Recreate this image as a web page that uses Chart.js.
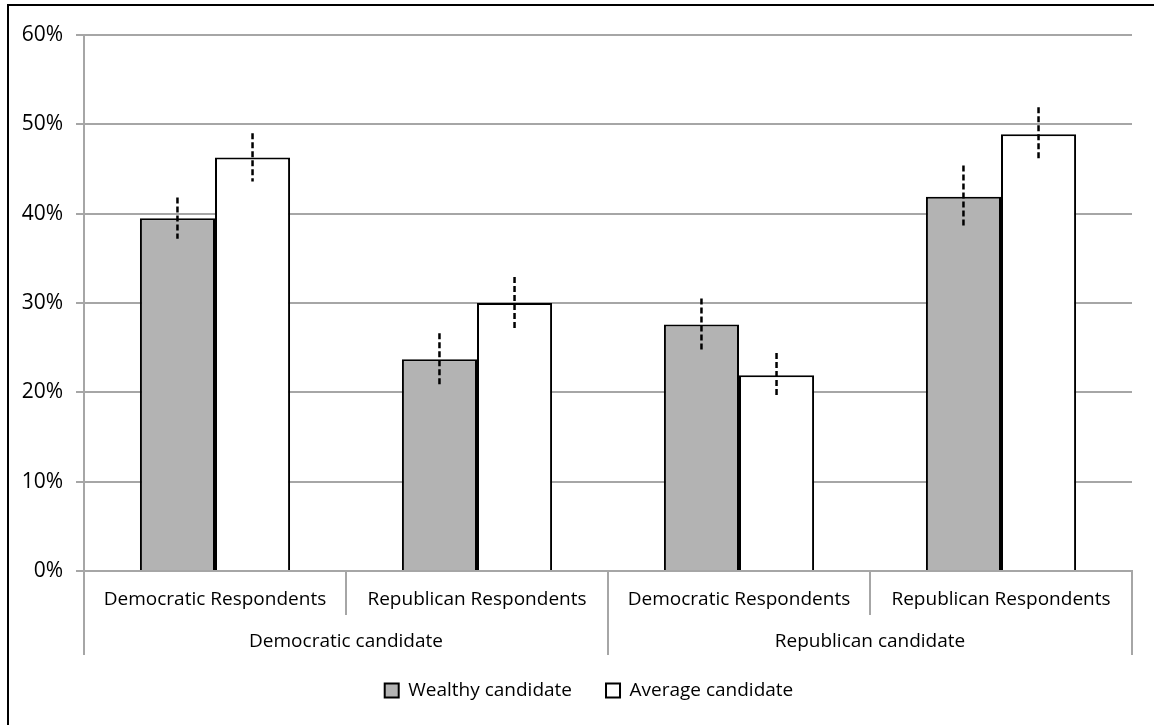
<!DOCTYPE html>
<html>
<head>
<meta charset="utf-8">
<script src="https://cdn.jsdelivr.net/npm/chart.js@4.4.0/dist/chart.umd.min.js"></script>
<style>
  html, body { margin: 0; padding: 0; background: #fff; overflow: hidden; }
  #wrap { width: 1154px; height: 725px; position: relative; }
</style>
</head>
<body>
<div id="wrap"><canvas id="chartCanvas"></canvas></div>
<script>
// Chart data
var respondentLabels = ['Democratic Respondents', 'Republican Respondents', 'Democratic Respondents', 'Republican Respondents'];
var candidateGroups = ['Democratic candidate', 'Republican candidate'];
var seriesNames = ['Wealthy candidate', 'Average candidate'];
var wealthyValues = [39.5, 23.7, 27.6, 41.9];
var wealthyErrors = [2.3, 2.9, 2.9, 3.5];
var averageValues = [46.3, 30.0, 21.9, 48.9];
var averageErrors = [2.7, 2.9, 2.5, 3.0];
var yTicks = [0, 10, 20, 30, 40, 50, 60];

var errorLists = [wealthyErrors, averageErrors];
var gridGray = '#a6a6a6';
var labelFont = { family: '"Open Sans", sans-serif', size: 19 };
var yFont = { family: '"Open Sans", sans-serif', size: 21 };

// Draws the outer frame (cropped at the right and bottom)
var framePlugin = {
  id: 'frame',
  beforeDraw: function(chart) {
    var ctx = chart.ctx;
    ctx.save();
    ctx.strokeStyle = '#000';
    ctx.lineWidth = 2;
    ctx.beginPath();
    ctx.moveTo(8, chart.height);
    ctx.lineTo(8, 5);
    ctx.lineTo(chart.width, 5);
    ctx.stroke();
    ctx.restore();
  }
};

// Legend in the original sits a bit right of the canvas centre, and a bit higher
var legendShift = {
  id: 'legendShift',
  afterLayout: function(chart) {
    var lg = chart.legend;
    lg.left += 23;
    lg.right += 23;
    lg.top -= 8;
    lg.bottom -= 8;
  }
};

// Draws dashed error bars on top of the bars
var errorBarPlugin = {
  id: 'errorBars',
  afterDatasetsDraw: function(chart) {
    var ctx = chart.ctx;
    var yScale = chart.scales.y;
    ctx.save();
    ctx.strokeStyle = '#000';
    ctx.lineWidth = 2.5;
    ctx.setLineDash([6, 3]);
    chart.data.datasets.forEach(function(ds, i) {
      var meta = chart.getDatasetMeta(i);
      meta.data.forEach(function(bar, j) {
        var v = ds.data[j];
        var e = errorLists[i][j];
        ctx.beginPath();
        ctx.moveTo(bar.x, yScale.getPixelForValue(v + e));
        ctx.lineTo(bar.x, yScale.getPixelForValue(v - e));
        ctx.stroke();
      });
    });
    ctx.restore();
  }
};

var chart = new Chart(document.getElementById('chartCanvas'), {
  type: 'bar',
  data: {
    labels: respondentLabels,
    datasets: [{
      label: seriesNames[0],
      data: wealthyValues,
      backgroundColor: '#b3b3b3',
      borderColor: '#000',
      borderWidth: 2
    }, {
      label: seriesNames[1],
      data: averageValues,
      backgroundColor: '#ffffff',
      borderColor: '#000',
      borderWidth: 2
    }]
  },
  options: {
    responsive: true,
    maintainAspectRatio: false,
    animation: false,
    layout: { padding: { top: 35, right: 22, bottom: 7, left: 0 } },
    datasets: { bar: { categoryPercentage: 0.573, barPercentage: 1.0 } },
    plugins: {
      tooltip: { enabled: false },
      legend: {
        position: 'bottom',
        labels: {
          color: '#000',
          font: labelFont,
          boxWidth: 14,
          boxHeight: 14,
          padding: 34
        }
      }
    },
    scales: {
      y: {
        min: 0,
        max: 60,
        afterBuildTicks: function(scale) {
          scale.ticks = yTicks.map(function(v) { return { value: v }; });
        },
        afterFit: function(scale) { scale.width = 84; },
        ticks: {
          color: '#000',
          font: yFont,
          padding: 13,
          callback: function(v) { return v + '%'; }
        },
        grid: { color: gridGray, lineWidth: 2, tickLength: 8 },
        border: { display: true, color: gridGray, width: 2 }
      },
      x: {
        type: 'category',
        position: 'bottom',
        weight: 0,
        afterFit: function(scale) { scale.height = 44; },
        ticks: { color: '#000', font: labelFont, padding: -27, maxRotation: 0, autoSkip: false },
        grid: { offset: true, drawOnChartArea: false, color: gridGray, lineWidth: 2, tickLength: 44 },
        border: { display: true, color: gridGray, width: 2 }
      },
      x2: {
        type: 'category',
        position: 'bottom',
        weight: 1,
        labels: candidateGroups,
        offset: true,
        afterFit: function(scale) { scale.height = 40; },
        ticks: { color: '#000', font: labelFont, padding: -25, maxRotation: 0, autoSkip: false },
        grid: { offset: true, drawOnChartArea: false, color: gridGray, lineWidth: 2, tickLength: 40 },
        border: { display: false }
      }
    }
  },
  plugins: [framePlugin, legendShift, errorBarPlugin]
});
</script>
</body>
</html>
